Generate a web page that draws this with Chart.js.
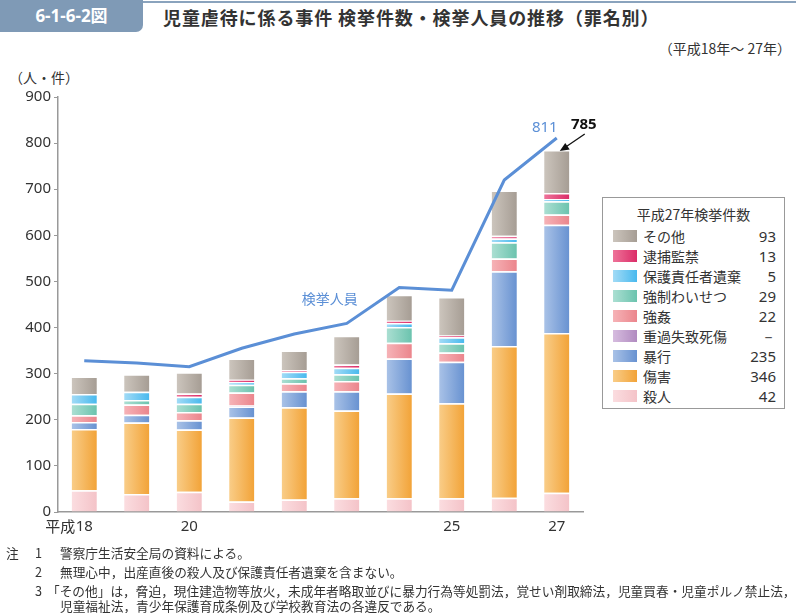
<!DOCTYPE html>
<html lang="ja">
<head>
<meta charset="utf-8">
<script src="https://cdn.jsdelivr.net/npm/chart.js@4"></script>
<style>
  body { margin: 0; width: 796px; height: 613px; position: relative; background: #fff;
         font-family: "Noto Sans CJK JP", "Noto Sans", sans-serif; color: #333; overflow: hidden; }
  #topline { position: absolute; left: 0; top: 1px; width: 796px; height: 2px; background: #8aa3bd; }
  #fig { position: absolute; left: 0; top: 0; width: 143px; height: 32px; background: #7f9ab6;
         border-bottom-right-radius: 7px; color: #fff; font-weight: bold; font-size: 17px;
         line-height: 32px; text-align: center; font-family: "Noto Sans", "Noto Sans CJK JP", sans-serif; }
  #title { position: absolute; left: 163px; top: 4px; font-size: 18px; font-weight: bold; color: #333; letter-spacing: 0.9px; }
  #period { position: absolute; right: 5px; top: 38px; font-size: 14px; }
  #unit { position: absolute; left: 9px; top: 67px; font-size: 14px; }
  #chart { position: absolute; left: 0; top: 0; }
  #legend { position: absolute; left: 602px; top: 197px; width: 181px; height: 210px; border: 1px solid #999; background: #fff; }
  #legend .ttl { position: absolute; left: 0; width: 181px; top: 6px; text-align: center; font-size: 14px; }
  #legend .row { position: absolute; left: 10px; width: 163px; height: 20px; font-size: 14px; line-height: 20px; }
  #legend .sw { position: absolute; left: 0; top: 4px; width: 24px; height: 12px; }
  #legend .lb { position: absolute; left: 30px; top: 0; }
  #legend .vl { position: absolute; right: 0; top: 0; font-family: "Noto Sans", sans-serif; font-size: 15px; }
  .note { position: absolute; font-size: 12.7px; line-height: 14px; white-space: nowrap; }
</style>
</head>
<body>
<div id="topline"></div>
<div id="fig">6-1-6-2図</div>
<div id="title">児童虐待に係る事件 検挙件数・検挙人員の推移（罪名別）</div>
<div id="period">（平成18年～ 27年）</div>
<div id="unit">（人・件）</div>
<canvas id="chart" width="796" height="613"></canvas>
<div id="legend"><div class="ttl">平成27年検挙件数</div></div>
<div class="note" style="left:6px;top:546px;">注</div>
<div class="note" style="left:35px;top:546px;">1</div>
<div class="note" style="left:60px;top:546px;">警察庁生活安全局の資料による。</div>
<div class="note" style="left:35px;top:565px;">2</div>
<div class="note" style="left:60px;top:565px;">無理心中，出産直後の殺人及び保護責任者遺棄を含まない。</div>
<div class="note" style="left:35px;top:584px;">3</div>
<div class="note" style="left:47px;top:584px;">「その他」は，脅迫，現住建造物等放火，未成年者略取並びに暴力行為等処罰法，覚せい剤取締法，児童買春・児童ポルノ禁止法，</div>
<div class="note" style="left:60px;top:599px;">児童福祉法，青少年保護育成条例及び学校教育法の各違反である。</div>
<script>
const years = ['平成18', '19', '20', '21', '22', '23', '24', '25', '26', '27'];
const xTickLabels = ['18', '', '20', '', '', '', '', '25', '', '27'];
const yTicks = [0, 100, 200, 300, 400, 500, 600, 700, 800, 900];

const satsujin = [47, 39, 44, 23, 27, 30, 30, 30, 31, 42];
const shougai = [133, 155, 135, 182, 200, 190, 227, 206, 329, 346];
const boukou = [15, 17, 20, 24, 35, 42, 76, 90, 162, 235];
const juukashitsu = [0, 0, 0, 2, 0, 0, 0, 0, 0, null];
const goukan = [15, 22, 18, 28, 17, 22, 34, 20, 28, 22];
const kyouseiWaisetsu = [25, 10, 18, 17, 11, 15, 34, 20, 35, 29];
const hogoIki = [21, 18, 15, 6, 14, 14, 9, 13, 8, 5];
const taihoKankin = [0, 0, 7, 5, 4, 7, 5, 4, 6, 13];
const sonota = [38, 38, 46, 46, 42, 62, 56, 83, 98, 93];
const kenkyoJinin = [328, 323, 315, 355, 386, 409, 487, 481, 720, 811];
const kenkyoKensu27 = 785;

// bottom to top
const series = [
  { name: '殺人', data: satsujin, c: ['#fbdde0', '#f4c3c8'] },
  { name: '傷害', data: shougai, c: ['#f9cd88', '#f2a338'] },
  { name: '暴行', data: boukou, c: ['#a9c2e7', '#6892d1'] },
  { name: '重過失致死傷', data: juukashitsu, c: ['#d6bcdf', '#b18bc0'] },
  { name: '強姦', data: goukan, c: ['#f6b3b7', '#eb858c'] },
  { name: '強制わいせつ', data: kyouseiWaisetsu, c: ['#abdfd2', '#6bc3ae'] },
  { name: '保護責任者遺棄', data: hogoIki, c: ['#a2dbf6', '#48b9ee'] },
  { name: '逮捕監禁', data: taihoKankin, c: ['#ee7399', '#db2c68'] },
  { name: 'その他', data: sonota, c: ['#ccc5bd', '#a69d94'] }
];

const BAR_PCT = 0.48;
function grad(pair) {
  return function (ctx) {
    const chart = ctx.chart;
    const xs = chart.scales.x;
    if (!xs || ctx.dataIndex == null || isNaN(xs.width)) return pair[1];
    const cx = xs.getPixelForValue(ctx.dataIndex);
    const w = xs.width / years.length * BAR_PCT;
    const g = chart.ctx.createLinearGradient(cx - w / 2, 0, cx + w / 2, 0);
    g.addColorStop(0, pair[0]);
    g.addColorStop(1, pair[1]);
    return g;
  };
}

const datasets = series.map(s => ({
  type: 'bar',
  label: s.name,
  data: s.data,
  stack: 'cases',
  backgroundColor: grad(s.c),
  borderColor: '#ffffff',
  borderWidth: { top: 1.5, right: 0, bottom: 0, left: 0 },
  borderSkipped: false,
  barPercentage: BAR_PCT,
  categoryPercentage: 1,
  order: 2
}));
datasets.push({
  type: 'line',
  label: '検挙人員',
  data: kenkyoJinin,
  stack: 'persons',
  borderColor: '#5b8fd6',
  borderWidth: 3,
  pointRadius: 0,
  tension: 0,
  fill: false,
  order: 1
});

// legend (top to bottom)
const legend = document.getElementById('legend');
series.slice().reverse().forEach((s, i) => {
  const v = s.data[s.data.length - 1];
  const row = document.createElement('div');
  row.className = 'row';
  row.style.top = (28 + i * 20) + 'px';
  row.innerHTML = '<div class="sw" style="background:linear-gradient(to right,' + s.c[0] + ',' + s.c[1] + ')"></div>' +
    '<div class="lb">' + s.name + '</div><div class="vl">' + (v == null ? '－' : v) + '</div>';
  legend.appendChild(row);
});

const annotations = {
  id: 'annotations',
  afterDraw(chart) {
    const c = chart.ctx;
    const xs = chart.scales.x, ys = chart.scales.y;
    const last = years.length - 1;
    c.save();
    // era prefix for first tick
    c.font = '15px "Noto Sans CJK JP", "Noto Sans", sans-serif';
    c.fillStyle = '#333';
    c.textAlign = 'right';
    c.textBaseline = 'middle';
    c.fillText('平成', xs.getPixelForValue(0) - 9, 526);
    // line label
    c.fillStyle = '#5b8fd6';
    c.textAlign = 'center';
    c.font = '14px "Noto Sans CJK JP", sans-serif';
    c.fillText('検挙人員', xs.getPixelForValue(5) - 17, ys.getPixelForValue(kenkyoJinin[5]) - 25);
    c.font = '15px "Noto Sans", sans-serif';
    const lx = xs.getPixelForValue(last), ly = ys.getPixelForValue(kenkyoJinin[last]);
    c.fillText(String(kenkyoJinin[last]), lx - 12, ly - 10);
    // bar total with arrow
    const ty = ys.getPixelForValue(kenkyoKensu27);
    c.fillStyle = '#111';
    c.font = 'bold 15px "Noto Sans", sans-serif';
    c.fillText(String(kenkyoKensu27), lx + 27, ty - 25);
    c.strokeStyle = '#111';
    c.lineWidth = 1.3;
    c.beginPath();
    c.moveTo(lx + 28, ty - 16);
    c.lineTo(lx + 6, ty - 1);
    c.stroke();
    c.beginPath();
    c.moveTo(lx + 3, ty + 1);
    c.lineTo(lx + 13, ty - 0.5);
    c.lineTo(lx + 8.5, ty - 7);
    c.closePath();
    c.fillStyle = '#111';
    c.fill();
    c.restore();
  }
};

new Chart(document.getElementById('chart'), {
  data: { labels: years, datasets: datasets },
  options: {
    responsive: false,
    animation: false,
    layout: { padding: { top: 97, right: 213, bottom: 0, left: 0 } },
    plugins: { legend: { display: false }, tooltip: { enabled: false } },
    scales: {
      x: {
        stacked: true,
        grid: { display: false, drawTicks: false },
        border: { display: true, color: '#999', width: 1.5 },
        ticks: {
          autoSkip: false, maxRotation: 0, padding: 6, color: '#333',
          font: { size: 15, family: '"Noto Sans", sans-serif' },
          callback: (v, i) => xTickLabels[i]
        },
        afterFit: s => { s.height = 101; }
      },
      y: {
        stacked: true,
        min: 0, max: 900,
        grid: { drawOnChartArea: false, drawTicks: true, tickLength: 4, color: '#999' },
        border: { display: true, color: '#999', width: 1.5 },
        afterBuildTicks: s => { s.ticks = yTicks.map(v => ({ value: v })); },
        ticks: { padding: 3, color: '#333', font: { size: 15, family: '"Noto Sans", sans-serif' } },
        afterFit: s => { s.width = 58; }
      }
    }
  },
  plugins: [annotations]
});
</script>
</body>
</html>
